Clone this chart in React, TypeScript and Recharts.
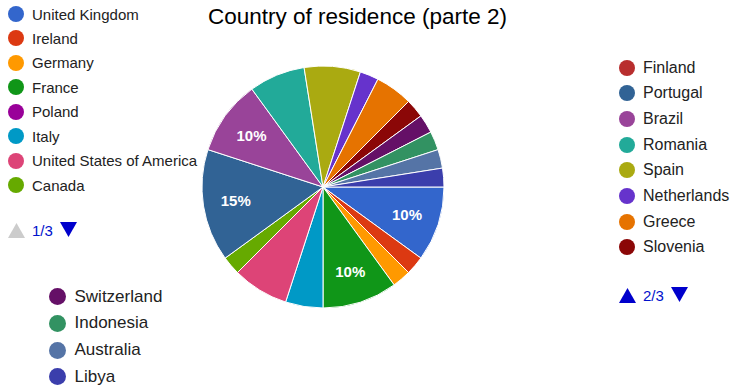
import React from "react"
import { PieChart, Pie, Cell } from "recharts"

const countries = [
  "United Kingdom", "Ireland", "Germany", "France", "Poland", "Italy",
  "United States of America", "Canada", "Finland", "Portugal", "Brazil",
  "Romania", "Spain", "Netherlands", "Greece", "Slovenia", "Switzerland",
  "Indonesia", "Australia", "Libya",
]
const counts = [4, 1, 1, 4, 0, 2, 3, 1, 0, 6, 4, 3, 3, 1, 2, 1, 1, 1, 1, 1]
const colors = [
  "#3366cc", "#dc3912", "#ff9900", "#109618", "#990099", "#0099c6",
  "#dd4477", "#66aa00", "#b82e2e", "#316395", "#994499", "#22aa99",
  "#aaaa11", "#6633cc", "#e67300", "#8b0707", "#651067", "#329262",
  "#5574a6", "#3b3eac",
]

const data = countries
  .map((name, i) => ({ name, value: counts[i], color: colors[i] }))
  .filter((d) => d.value > 0)

const font = '"Liberation Sans", Arial, sans-serif'
const RADIAN = Math.PI / 180

const renderLabel = (props: any) => {
  const { cx, cy, midAngle, outerRadius, percent } = props
  if (percent < 0.095) return null
  const r = outerRadius * 0.73
  const x = cx + r * Math.cos(-midAngle * RADIAN)
  const y = cy + r * Math.sin(-midAngle * RADIAN)
  return (
    <text x={x} y={y} fill="#fff" textAnchor="middle" dominantBaseline="central"
      fontSize={15} fontWeight="bold" fontFamily={font}>
      {`${Math.round(percent * 100)}%`}
    </text>
  )
}

function Tri({ up, color }: { up: boolean; color: string }) {
  return (
    <svg width={17} height={16} style={{ display: "block" }}>
      <polygon points={up ? "8.5,1 17,16 0,16" : "0,0 17,0 8.5,15"} fill={color} />
    </svg>
  )
}

function LegendBlock(props: {
  names: string[]; left: number; top: number; step: number; size: number; dot: number;
  gap: number; pager?: { label: string; upOn: boolean; top: number }
}) {
  const { names, left, top, step, size, dot, gap, pager } = props
  return (
    <div style={{ position: "absolute", left: 0, top: 0 }}>
      {names.map((n, i) => {
        const idx = countries.indexOf(n)
        return (
          <div key={n} style={{
            position: "absolute", left: left - dot / 2, top: top + i * step - 10,
            height: 20, display: "flex", alignItems: "center", whiteSpace: "nowrap",
          }}>
            <span style={{
              width: dot, height: dot, borderRadius: "50%", background: colors[idx],
              display: "inline-block", marginRight: gap,
            }} />
            <span style={{ fontSize: size, color: "#222", fontFamily: font }}>{n}</span>
          </div>
        )
      })}
      {pager && (
        <div style={{
          position: "absolute", left: left - 8, top: pager.top - 10, height: 20,
          display: "flex", alignItems: "center", gap: 7,
        }}>
          <Tri up color={pager.upOn ? "#0000cc" : "#cccccc"} />
          <span style={{ fontSize: 15, color: "#0011cc", fontFamily: font }}>{pager.label}</span>
          <Tri up={false} color="#0000cc" />
        </div>
      )}
    </div>
  )
}

export default function App() {
  return (
    <div style={{ position: "fixed", left: 0, top: 0, width: 737, height: 391, background: "#fff", overflow: "hidden" }}>
      <div style={{
        position: "absolute", left: 0, width: 715, top: 4, textAlign: "center",
        fontSize: 22.5, fontFamily: font, color: "#000",
      }}>
        Country of residence (parte 2)
      </div>
      <PieChart width={737} height={391} style={{ position: "absolute", left: 0, top: 0 }}>
        <Pie data={data} dataKey="value" nameKey="name" cx={318} cy={182} outerRadius={121}
          startAngle={0} endAngle={-360} stroke="#fff" strokeWidth={1}
          label={renderLabel} labelLine={false} isAnimationActive={false}>
          {data.map((d) => <Cell key={d.name} fill={d.color} />)}
        </Pie>
      </PieChart>
      <LegendBlock names={countries.slice(0, 8)} left={16} top={14} step={24.43} size={15} dot={16} gap={8}
        pager={{ label: "1/3", upOn: false, top: 230 }} />
      <LegendBlock names={countries.slice(8, 16)} left={627} top={67.5} step={25.7} size={16} dot={16} gap={8}
        pager={{ label: "2/3", upOn: true, top: 295 }} />
      <LegendBlock names={countries.slice(16)} left={57} top={296.7} step={26.7} size={17} dot={17} gap={9} />
    </div>
  )
}
